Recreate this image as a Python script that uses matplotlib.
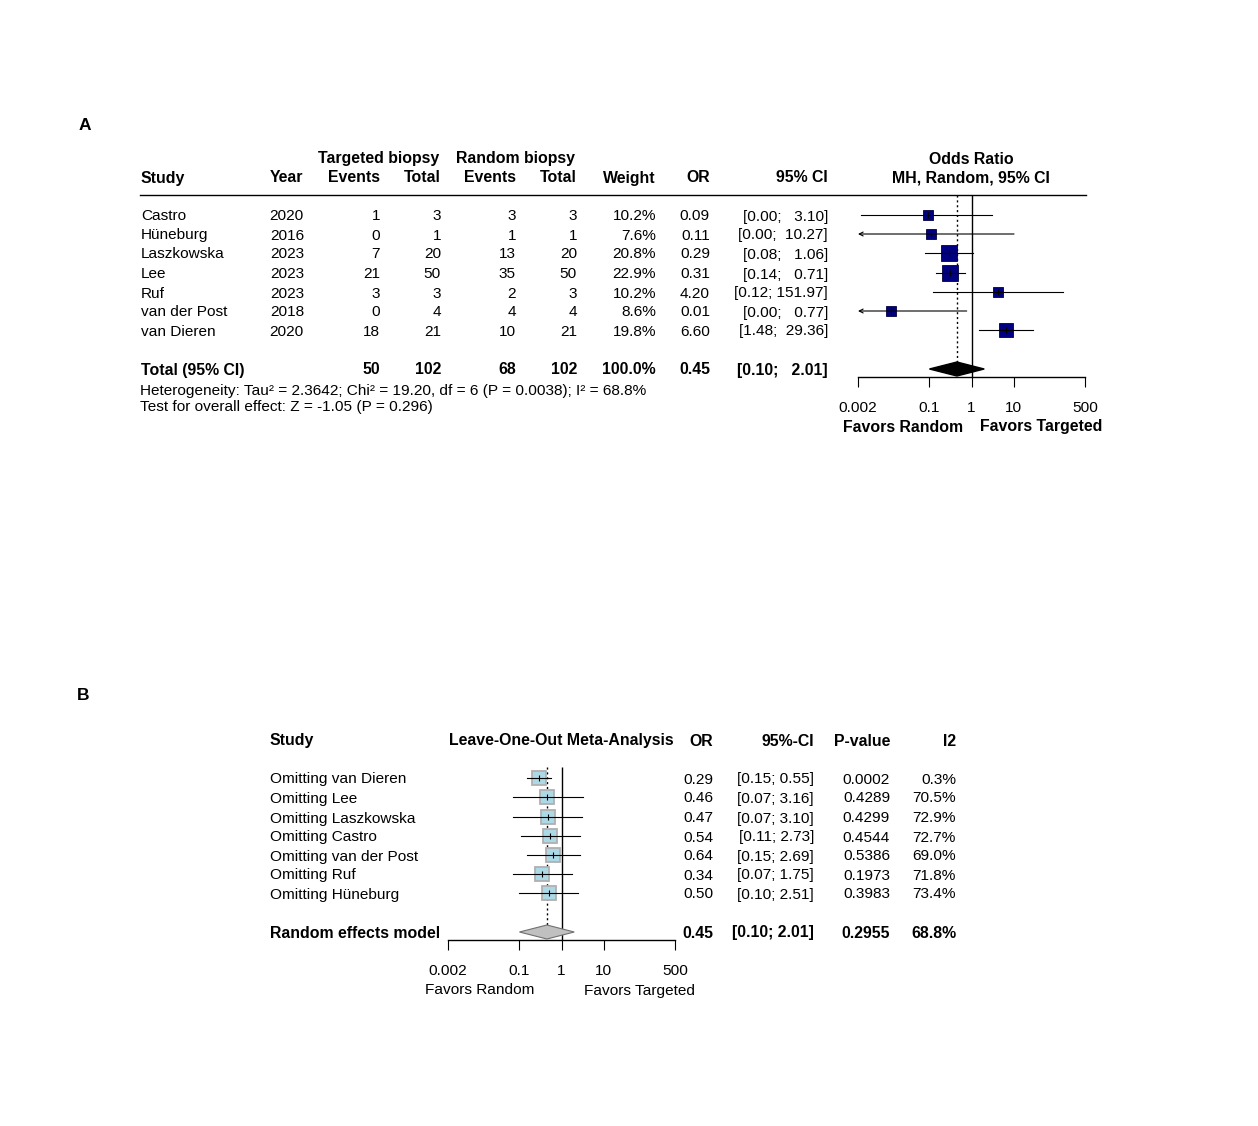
import numpy as np
import matplotlib
matplotlib.use("Agg")
import matplotlib.pyplot as plt
from matplotlib.patches import Polygon

plt.rcParams['font.family'] = ['Liberation Sans', 'DejaVu Sans']

W, H = 1258, 1126
FS = 11.1      # regular text
FSB = 11.4     # bold text

# ---- Panel A data ----
studies = ["Castro", "Hüneburg", "Laszkowska", "Lee", "Ruf", "van der Post", "van Dieren"]
years = [2020, 2016, 2023, 2023, 2023, 2018, 2020]
tgt_events = [1, 0, 7, 21, 3, 0, 18]
tgt_total = [3, 1, 20, 50, 3, 4, 21]
rnd_events = [3, 1, 13, 35, 2, 4, 10]
rnd_total = [3, 1, 20, 50, 3, 4, 21]
weights = [10.2, 7.6, 20.8, 22.9, 10.2, 8.6, 19.8]
odds = [0.09, 0.11, 0.29, 0.31, 4.20, 0.012, 6.60]
ci_lo = [0.0024, 0.0012, 0.08, 0.14, 0.12, 0.0002, 1.48]
ci_hi = [3.10, 10.27, 1.06, 0.71, 151.97, 0.77, 29.36]
pooled_or, pooled_lo, pooled_hi = 0.45, 0.10, 2.01
het_text = "Heterogeneity: Tau² = 2.3642; Chi² = 19.20, df = 6 (P = 0.0038); I² = 68.8%"
eff_text = "Test for overall effect: Z = -1.05 (P = 0.296)"

# ---- Panel B data ----
loo_labels = ["Omitting van Dieren", "Omitting Lee", "Omitting Laszkowska", "Omitting Castro",
              "Omitting van der Post", "Omitting Ruf", "Omitting Hüneburg"]
loo_or = [0.29, 0.46, 0.47, 0.54, 0.64, 0.34, 0.50]
loo_lo = [0.15, 0.07, 0.07, 0.11, 0.15, 0.07, 0.10]
loo_hi = [0.55, 3.16, 3.10, 2.73, 2.69, 1.75, 2.51]
loo_p = [0.0002, 0.4289, 0.4299, 0.4544, 0.5386, 0.1973, 0.3983]
loo_i2 = [0.3, 70.5, 72.9, 72.7, 69.0, 71.8, 73.4]
pooled_p, pooled_i2 = 0.2955, 68.8

ticks = [0.002, 0.1, 1, 10, 500]
tick_labels = ["0.002", "0.1", "1", "10", "500"]

fig = plt.figure(figsize=(W / 100, H / 100), dpi=100)
ax = fig.add_axes([0, 0, 1, 1])
ax.set_xlim(0, W)
ax.set_ylim(H, 0)
ax.axis("off")


def txt(x, y, s, ha="left", bold=False, size=None):
    if size is None:
        size = FSB if bold else FS
    ax.text(x, y + 5.5, s, ha=ha, va="baseline", fontsize=size,
            fontweight="bold" if bold else "normal")


def forest_axes(x0, x1, ytop, ybot):
    fa = fig.add_axes([x0 / W, 1 - ybot / H, (x1 - x0) / W, (ybot - ytop) / H])
    fa.set_xscale("log")
    fa.set_xlim(0.002, 500)
    fa.set_ylim(ybot, ytop)
    fa.patch.set_alpha(0)
    for s in ["top", "left", "right"]:
        fa.spines[s].set_visible(False)
    fa.spines["bottom"].set_linewidth(1)
    fa.set_yticks([])
    fa.set_xticks(ticks)
    fa.set_xticklabels(tick_labels)
    fa.minorticks_off()
    fa.tick_params(axis="x", direction="out", length=7.5, width=0.8, pad=9.5, labelsize=FS)
    return fa


# ================= Panel A =================
txt(79, 125, "A", bold=True, size=12.5)
rows_a = [215, 234, 253, 273, 292, 311, 330]
y_tot = 369

txt(379, 158, "Targeted biopsy", ha="center", bold=True)
txt(516, 158, "Random biopsy", ha="center", bold=True)
txt(971, 158, "Odds Ratio", ha="center", bold=True)
for x, s, ha in [(141, "Study", "left"), (303, "Year", "right"), (380, "Events", "right"),
                 (441, "Total", "right"), (516, "Events", "right"), (577, "Total", "right"),
                 (656, "Weight", "right"), (710, "OR", "right"), (828, "95% CI", "right"),
                 (971, "MH, Random, 95% CI", "center")]:
    txt(x, 177, s, ha=ha, bold=True)
ax.plot([140, 1086], [195, 195], color="black", lw=1)

for i, y in enumerate(rows_a):
    txt(141, y, studies[i])
    txt(304, y, str(years[i]), ha="right")
    txt(380, y, str(tgt_events[i]), ha="right")
    txt(441, y, str(tgt_total[i]), ha="right")
    txt(516, y, str(rnd_events[i]), ha="right")
    txt(577, y, str(rnd_total[i]), ha="right")
    txt(656, y, f"{weights[i]:.1f}%", ha="right")
    txt(710, y, f"{odds[i]:.2f}", ha="right")
    txt(828, y, f"[{ci_lo[i]:.2f}; {ci_hi[i]:6.2f}]", ha="right")

txt(141, y_tot, "Total (95% CI)", bold=True)
txt(380, y_tot, str(sum(tgt_events)), ha="right", bold=True)
txt(441, y_tot, str(sum(tgt_total)), ha="right", bold=True)
txt(516, y_tot, str(sum(rnd_events)), ha="right", bold=True)
txt(577, y_tot, str(sum(rnd_total)), ha="right", bold=True)
txt(656, y_tot, "100.0%", ha="right", bold=True)
txt(710, y_tot, f"{pooled_or:.2f}", ha="right", bold=True)
txt(828, y_tot, f"[{pooled_lo:.2f}; {pooled_hi:6.2f}]", ha="right", bold=True)
txt(140, 389, het_text)
txt(140, 406, eff_text)

fa = forest_axes(858, 1085, 195, 377)
fa.vlines(1, 195, 377, color="black", lw=1)
fa.vlines(pooled_or, 195, 362, color="black", lw=1, linestyles=(0, (1.5, 2)))
for i, y in enumerate(rows_a):
    side = 3.34 * np.sqrt(weights[i])
    fa.plot(odds[i], y, marker="s", ms=side * 0.72, mfc="#000080", mec="#000040",
            mew=0.6, zorder=3)
    lo = max(ci_lo[i], 0.002)
    if ci_lo[i] < 0.002:
        fa.annotate("", xy=(0.002, y), xytext=(ci_hi[i], y),
                    arrowprops=dict(arrowstyle="->", lw=0.8, color="black",
                                    mutation_scale=7, shrinkA=0, shrinkB=0), zorder=4)
    else:
        fa.plot([lo, ci_hi[i]], [y, y], color="black", lw=0.8, zorder=4)
    fa.plot(odds[i], y, marker="|", ms=5, color="black", mew=0.8, zorder=5)
fa.add_patch(Polygon([(pooled_lo, y_tot), (pooled_or, y_tot - 7), (pooled_hi, y_tot),
                      (pooled_or, y_tot + 7)], closed=True, fc="black", ec="black", zorder=3))
txt(903, 426, "Favors Random", ha="center", bold=True)
txt(1041, 426, "Favors Targeted", ha="center", bold=True)

# ================= Panel B =================
txt(77, 695, "B", bold=True, size=12.5)
rows_b = [778, 797, 817, 836, 855, 874, 893]
y_re = 932

txt(270, 740, "Study", bold=True)
txt(561, 740, "Leave-One-Out Meta-Analysis", ha="center", bold=True)
txt(713, 740, "OR", ha="right", bold=True)
txt(814, 740, "95%-CI", ha="right", bold=True)
txt(890, 740, "P-value", ha="right", bold=True)
txt(956, 740, "I2", ha="right", bold=True)

for i, y in enumerate(rows_b):
    txt(270, y, loo_labels[i])
    txt(713, y, f"{loo_or[i]:.2f}", ha="right")
    txt(814, y, f"[{loo_lo[i]:.2f}; {loo_hi[i]:.2f}]", ha="right")
    txt(890, y, f"{loo_p[i]:.4f}", ha="right")
    txt(956, y, f"{loo_i2[i]:.1f}%", ha="right")

txt(270, y_re, "Random effects model", bold=True)
txt(713, y_re, f"{pooled_or:.2f}", ha="right", bold=True)
txt(814, y_re, f"[{pooled_lo:.2f}; {pooled_hi:.2f}]", ha="right", bold=True)
txt(890, y_re, f"{pooled_p:.4f}", ha="right", bold=True)
txt(956, y_re, f"{pooled_i2:.1f}%", ha="right", bold=True)

fb = forest_axes(448, 675, 767, 940)
fb.vlines(1, 767, 940, color="black", lw=1)
fb.vlines(pooled_or, 767, 926, color="black", lw=1, linestyles=(0, (1.5, 2)))
for i, y in enumerate(rows_b):
    fb.plot(loo_or[i], y, marker="s", ms=14 * 0.72, mfc="#ADD8E6", mec="#B0B0B0",
            mew=1.3, zorder=3)
    fb.plot([loo_lo[i], loo_hi[i]], [y, y], color="black", lw=0.8, zorder=4)
    fb.plot(loo_or[i], y, marker="|", ms=5, color="black", mew=0.8, zorder=5)
fb.add_patch(Polygon([(pooled_lo, y_re), (pooled_or, y_re - 7), (pooled_hi, y_re),
                      (pooled_or, y_re + 7)], closed=True, fc="#C0C0C0", ec="#707070",
                     lw=0.8, zorder=3))
txt(480, 989, "Favors Random", ha="center")
txt(640, 989, "Favors Targeted", ha="center")

fig.savefig("out.png", dpi=100)
